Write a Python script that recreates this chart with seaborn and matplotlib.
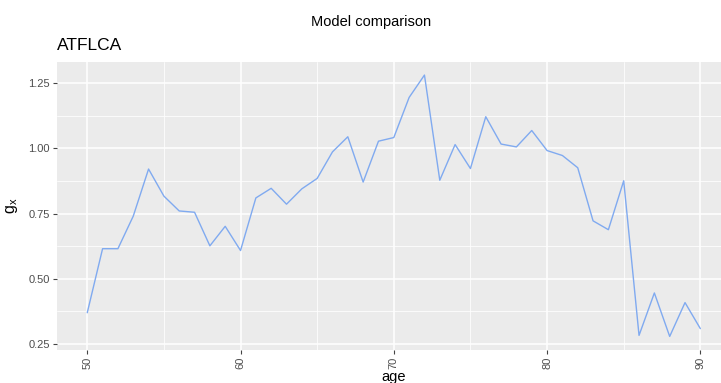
import matplotlib
matplotlib.use("Agg")
import matplotlib.pyplot as plt
import seaborn as sns
import pandas as pd

ages = list(range(50, 91))
gx = [0.369, 0.615, 0.615, 0.740, 0.921, 0.817, 0.760, 0.755, 0.626, 0.701,
      0.608, 0.810, 0.847, 0.786, 0.845, 0.885, 0.987, 1.045, 0.871, 1.028,
      1.042, 1.196, 1.282, 0.878, 1.015, 0.923, 1.122, 1.017, 1.006, 1.069,
      0.992, 0.973, 0.926, 0.722, 0.688, 0.876, 0.282, 0.445, 0.278, 0.408,
      0.308]
x_ticks = [50, 60, 70, 80, 90]
y_ticks = [0.25, 0.50, 0.75, 1.00, 1.25]
y_tick_labels = ["0.25", "0.50", "0.75", "1.00", "1.25"]

df = pd.DataFrame({"age": ages, "gx": gx})

sns.set_theme(style="darkgrid", rc={
    "axes.facecolor": "#EBEBEB",
    "grid.color": "white",
})
plt.rcParams["font.family"] = ["Liberation Sans", "DejaVu Sans"]

W, H = 721, 383
fig = plt.figure(figsize=(W / 100, H / 100), dpi=100)
left, right, top, bottom = 56.6, 731, 62, 349.5
ax = fig.add_axes([left / W, 1 - bottom / H, (right - left) / W, (bottom - top) / H])

sns.lineplot(data=df, x="age", y="gx", ax=ax, color="#80aaf0", linewidth=1.0)

ax.set_xlim(48, 92)
ax.set_ylim(0.2278, 1.3322)
ax.set_xticks(x_ticks)
ax.set_xticks([55, 65, 75, 85], minor=True)
ax.set_yticks(y_ticks)
ax.set_yticks([0.375, 0.625, 0.875, 1.125], minor=True)
ax.set_yticklabels(y_tick_labels)
ax.set_xticklabels([str(t) for t in x_ticks], rotation=90)
ax.grid(which="major", color="white", linewidth=1.1)
ax.grid(which="minor", color="white", linewidth=0.55)
for s in ax.spines.values():
    s.set_visible(False)
ax.tick_params(axis="both", which="major", length=3, width=0.8, color="#444444",
               labelsize=8, labelcolor="#4D4D4D", pad=2, bottom=True, left=True)
ax.tick_params(axis="both", which="minor", length=0)

ax.set_xlabel("age", fontsize=10.5, color="black", labelpad=1)
ax.set_ylabel(r"$\mathregular{g_x}$", fontsize=11.5, color="black", labelpad=6)

fig.text(371 / W, 1 - 22 / H, "Model comparison", ha="center", va="center",
         fontsize=10.5, color="black")
fig.text(left / W, 1 - 46 / H, "ATFLCA", ha="left", va="center",
         fontsize=12.5, color="black")

fig.savefig("out.png", dpi=100, facecolor="white")
